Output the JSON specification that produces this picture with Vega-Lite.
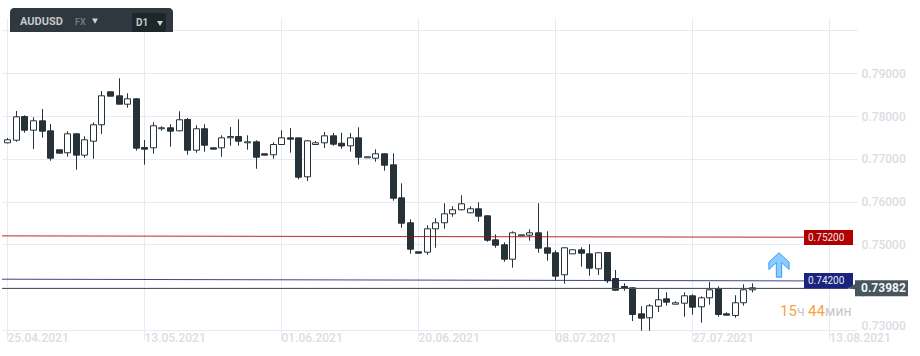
{"$schema":"https://vega.github.io/schema/vega-lite/v6.json","width":855,"height":312,"autosize":{"type":"none"},"padding":{"left":2,"top":18,"right":63,"bottom":26},"background":"#ffffff","config":{"view":{"stroke":null},"font":"Roboto"},
"datasets":{"candles":[
{"i":0,"o":0.77374,"h":0.77486,"l":0.77362,"c":0.77444},{"i":1,"o":0.77434,"h":0.78117,"l":0.77399,"c":0.77981},{"i":2,"o":0.77988,"h":0.78016,"l":0.7761,"c":0.77668},{"i":3,"o":0.77668,"h":0.77969,"l":0.77229,"c":0.77888},{"i":4,"o":0.77888,"h":0.78163,"l":0.77493,"c":0.77645},{"i":5,"o":0.77654,"h":0.77814,"l":0.76956,"c":0.77014},{"i":6,"o":0.77211,"h":0.77211,"l":0.77131,"c":0.77131},{"i":7,"o":0.77141,"h":0.77643,"l":0.77049,"c":0.77584},{"i":8,"o":0.77584,"h":0.77596,"l":0.76745,"c":0.77085},{"i":9,"o":0.77085,"h":0.77525,"l":0.77026,"c":0.77444},
{"i":10,"o":0.77411,"h":0.77853,"l":0.77002,"c":0.77795},{"i":11,"o":0.77795,"h":0.78585,"l":0.7758,"c":0.78472},{"i":12,"o":0.78566,"h":0.78566,"l":0.78463,"c":0.78463},{"i":13,"o":0.78472,"h":0.78881,"l":0.78276,"c":0.78276},{"i":14,"o":0.78276,"h":0.78531,"l":0.78194,"c":0.78402},{"i":15,"o":0.78402,"h":0.78414,"l":0.7719,"c":0.77248},{"i":16,"o":0.77264,"h":0.77439,"l":0.76862,"c":0.77225},{"i":17,"o":0.77257,"h":0.77853,"l":0.7712,"c":0.77772},{"i":18,"o":0.77702,"h":0.7776,"l":0.77657,"c":0.77725},{"i":19,"o":0.77725,"h":0.77807,"l":0.77283,"c":0.77645},
{"i":20,"o":0.77654,"h":0.7811,"l":0.77643,"c":0.77912},{"i":21,"o":0.77919,"h":0.77954,"l":0.77096,"c":0.77201},{"i":22,"o":0.77201,"h":0.77783,"l":0.77143,"c":0.77702},{"i":23,"o":0.77702,"h":0.77807,"l":0.77166,"c":0.77317},{"i":24,"o":0.77257,"h":0.77257,"l":0.77225,"c":0.77225},{"i":25,"o":0.77257,"h":0.77549,"l":0.77049,"c":0.7749},{"i":26,"o":0.7749,"h":0.77743,"l":0.77306,"c":0.77521},{"i":27,"o":0.77521,"h":0.77923,"l":0.77306,"c":0.77411},{"i":28,"o":0.77374,"h":0.77549,"l":0.77213,"c":0.77397},{"i":29,"o":0.77397,"h":0.77432,"l":0.76768,"c":0.77037},
{"i":30,"o":0.77117,"h":0.77117,"l":0.77085,"c":0.77085},{"i":31,"o":0.77094,"h":0.77385,"l":0.77002,"c":0.77334},{"i":32,"o":0.77334,"h":0.77666,"l":0.77322,"c":0.7749},{"i":33,"o":0.7749,"h":0.7772,"l":0.77143,"c":0.77458},{"i":34,"o":0.7749,"h":0.7749,"l":0.76521,"c":0.7657},{"i":35,"o":0.7658,"h":0.77439,"l":0.76482,"c":0.7742},{"i":36,"o":0.77334,"h":0.77416,"l":0.77322,"c":0.77374},{"i":37,"o":0.77374,"h":0.77626,"l":0.77253,"c":0.77537},{"i":38,"o":0.77537,"h":0.77603,"l":0.77306,"c":0.77341},{"i":39,"o":0.77364,"h":0.7761,"l":0.77236,"c":0.77299},
{"i":40,"o":0.77303,"h":0.77603,"l":0.77166,"c":0.7749},{"i":41,"o":0.7749,"h":0.77736,"l":0.76862,"c":0.77037},{"i":42,"o":0.77023,"h":0.77047,"l":0.77023,"c":0.77047},{"i":43,"o":0.77014,"h":0.77222,"l":0.76932,"c":0.77117},{"i":44,"o":0.77117,"h":0.77129,"l":0.76722,"c":0.7685},{"i":45,"o":0.7686,"h":0.77129,"l":0.76021,"c":0.76079},{"i":46,"o":0.76088,"h":0.76428,"l":0.7539,"c":0.75495},{"i":47,"o":0.75505,"h":0.75586,"l":0.74783,"c":0.74888},{"i":48,"o":0.74827,"h":0.74827,"l":0.74794,"c":0.74794},{"i":49,"o":0.74818,"h":0.75446,"l":0.74759,"c":0.75364},
{"i":50,"o":0.75364,"h":0.7561,"l":0.74923,"c":0.75505},{"i":51,"o":0.75505,"h":0.7596,"l":0.75366,"c":0.75715},{"i":52,"o":0.75715,"h":0.7589,"l":0.75647,"c":0.75809},{"i":53,"o":0.75809,"h":0.76147,"l":0.75797,"c":0.75948},{"i":54,"o":0.75738,"h":0.7589,"l":0.75727,"c":0.75832},{"i":55,"o":0.75832,"h":0.75983,"l":0.7553,"c":0.75659},{"i":56,"o":0.75668,"h":0.7568,"l":0.75063,"c":0.75098},{"i":57,"o":0.75107,"h":0.75235,"l":0.74923,"c":0.74981},{"i":58,"o":0.74991,"h":0.75049,"l":0.74595,"c":0.74654},{"i":59,"o":0.74654,"h":0.75306,"l":0.74456,"c":0.75271},
{"i":60,"o":0.75201,"h":0.75224,"l":0.75201,"c":0.75224},{"i":61,"o":0.75215,"h":0.75352,"l":0.75087,"c":0.75271},{"i":62,"o":0.75271,"h":0.7596,"l":0.74806,"c":0.74911},{"i":63,"o":0.7492,"h":0.75306,"l":0.74619,"c":0.74794},{"i":64,"o":0.74804,"h":0.74862,"l":0.74161,"c":0.74257},{"i":65,"o":0.7429,"h":0.74932,"l":0.74082,"c":0.7492},{"i":66,"o":0.7478,"h":0.74874,"l":0.7478,"c":0.74874},{"i":67,"o":0.74874,"h":0.74932,"l":0.74479,"c":0.74794},{"i":68,"o":0.7478,"h":0.75003,"l":0.74269,"c":0.74444},{"i":69,"o":0.7443,"h":0.74815,"l":0.74285,"c":0.74804},
{"i":70,"o":0.74811,"h":0.74815,"l":0.74098,"c":0.74149},{"i":71,"o":0.74203,"h":0.74402,"l":0.73918,"c":0.7393},{"i":72,"o":0.74017,"h":0.74091,"l":0.73918,"c":0.73977},{"i":73,"o":0.73986,"h":0.73998,"l":0.7321,"c":0.73362},{"i":74,"o":0.73378,"h":0.73554,"l":0.72984,"c":0.73276},{"i":75,"o":0.73285,"h":0.73607,"l":0.72984,"c":0.73565},{"i":76,"o":0.73556,"h":0.73965,"l":0.7342,"c":0.73706},{"i":77,"o":0.73729,"h":0.7388,"l":0.73568,"c":0.7365},{"i":78,"o":0.73603,"h":0.73671,"l":0.73603,"c":0.73636},{"i":79,"o":0.73626,"h":0.7388,"l":0.73311,"c":0.73799},
{"i":80,"o":0.73799,"h":0.73834,"l":0.73358,"c":0.73533},{"i":81,"o":0.73542,"h":0.73787,"l":0.73171,"c":0.73752},{"i":82,"o":0.73752,"h":0.74122,"l":0.73592,"c":0.73939},{"i":83,"o":0.73963,"h":0.74021,"l":0.73311,"c":0.73362},{"i":84,"o":0.73378,"h":0.73414,"l":0.73346,"c":0.73346},{"i":85,"o":0.73339,"h":0.73811,"l":0.73287,"c":0.73636},{"i":86,"o":0.73636,"h":0.74068,"l":0.73568,"c":0.73939},{"i":87,"o":0.73939,"h":0.74091,"l":0.73881,"c":0.73986}
]},
"encoding":{"x":{"field":"i","type":"quantitative","scale":{"domain":[-0.62,99.26],"padding":0,"round":true,"nice":false,"zero":false},"title":null},"y":{"type":"quantitative","scale":{"domain":[0.73,0.8029],"nice":false,"zero":false},"title":null}},
"layer":[
{"data":{"name":"candles"},"mark":{"type":"rule","stroke":"#263238","strokeWidth":1,"xOffset":0.5,"clip":false},"encoding":{"x":{"field":"i","type":"quantitative","scale":{"domain":[-0.62,99.26],"padding":0,"round":true,"nice":false,"zero":false},"title":null,"axis":{"orient":"bottom","values":[0,16,32,48,64,80,96],"labelExpr":"{'0':'25.04.2021','16':'13.05.2021','32':'01.06.2021','48':'20.06.2021','64':'08.07.2021','80':'27.07.2021','96':'13.08.2021'}[datum.value]","grid":true,"gridColor":"#e9e9f5","gridWidth":1,"domain":false,"tickColor":"#e9e9f5","tickSize":10,"labelPadding":-8,"labelAlign":"left","labelBaseline":"top","labelFont":"Roboto","labelFontSize":12,"labelFontWeight":500,"labelColor":"#dcdde2","labelOverlap":false,"labelFlush":false,"labelBound":false,"zindex":0}},"y":{"field":"l","type":"quantitative","scale":{"domain":[0.73,0.8029],"nice":false,"zero":false},"title":null,"axis":{"orient":"right","values":[0.73,0.74,0.75,0.76,0.77,0.78,0.79,0.8],"labelExpr":"(datum.value>0.795||(datum.value>0.735&&datum.value<0.745))?'':format(datum.value,'.5f')","grid":true,"gridColor":"#e9e9f5","gridWidth":1,"domain":false,"ticks":false,"labelPadding":4,"labelFlush":true,"labelFlushOffset":2,"labelFont":"Roboto","labelFontSize":12,"labelFontWeight":500,"labelColor":"#dcdde2","zindex":0}},"y2":{"field":"h"}}},
{"data":{"name":"candles"},"mark":{"type":"bar","size":6,"stroke":"#263238","strokeWidth":1,"xOffset":0.5},"encoding":{"y":{"field":"o","type":"quantitative"},"y2":{"field":"c"},"fill":{"condition":{"test":"datum.c>datum.o","value":"#ffffff"},"value":"#263238"}}},
{"data":{"values":[{"i":-0.62,"p":0.75199},{"i":93.07,"p":0.75168}]},"mark":{"type":"line","stroke":"#b00000","strokeWidth":1,"opacity":0.85},"encoding":{"y":{"field":"p","type":"quantitative"}}},
{"data":{"values":[{"i":-0.62,"p":0.74187},{"i":93.07,"p":0.74147}]},"mark":{"type":"line","stroke":"#1a237e","strokeWidth":1,"opacity":0.85},"encoding":{"y":{"field":"p","type":"quantitative"}}},
{"data":{"values":[{"i":-0.62,"p":0.7397},{"i":98.2,"p":0.7397}]},"mark":{"type":"line","stroke":"#47555e","strokeWidth":1},"encoding":{"y":{"field":"p","type":"quantitative"}}},
{"data":{"values":[{"i":93.07,"i2":98.8,"p":0.75336,"p2":0.74986,"k":"r"},{"i":93.07,"i2":98.8,"p":0.74332,"p2":0.73975,"k":"b"}]},"mark":{"type":"rect","clip":false},"encoding":{"y":{"field":"p","type":"quantitative"},"x2":{"field":"i2"},"y2":{"field":"p2"},"fill":{"field":"k","type":"nominal","legend":null,"scale":{"domain":["r","b"],"range":["#b00000","#1a237e"]}}}},
{"data":{"values":[{"i":99.03,"i2":105.2,"p":0.74160,"p2":0.73786}]},"mark":{"type":"rect","fill":"#47555e","clip":false},"encoding":{"y":{"field":"p","type":"quantitative"},"x2":{"field":"i2"},"y2":{"field":"p2"}}},
{"data":{"values":[{"i":98.98,"p":0.73973}]},"mark":{"type":"point","filled":true,"fill":"#47555e","stroke":null,"opacity":1,"size":280,"shape":"M1,-1 L1,1 L0,0.1 L-1,0 Z","clip":false},"encoding":{"y":{"field":"p","type":"quantitative"}}},
{"data":{"values":[{"i":90.1,"p":0.74519}]},"mark":{"type":"point","filled":true,"fill":"#8ecbff","stroke":"#2f9fff","strokeWidth":1,"opacity":1,"size":595,"shape":"M0,-1 L0.83,-0.23 L0.83,0.37 L0.22,-0.2 L0.22,1 L-0.22,1 L-0.22,-0.2 L-0.83,0.37 L-0.83,-0.23 Z"},"encoding":{"y":{"field":"p","type":"quantitative"}}},
{"data":{"values":[{"t":"0.75200","i":93.57,"p":0.75161},{"t":"0.74200","i":93.57,"p":0.74156}]},"mark":{"type":"text","align":"left","baseline":"middle","fontSize":10,"font":"Roboto","fill":"#e8eaf0","clip":false},"encoding":{"y":{"field":"p","type":"quantitative"},"text":{"field":"t"}}},
{"data":{"values":[{"t":"0.73982","i":99.72,"p":0.7397}]},"mark":{"type":"text","align":"left","baseline":"middle","fontSize":12,"fontWeight":"bold","font":"Roboto","fill":"#f2f4f5","clip":false},"encoding":{"y":{"field":"p","type":"quantitative"},"text":{"field":"t"}}},
{"data":{"values":[{"t":"15","i":90.26,"p":0.73327},{"t":"44","i":93.57,"p":0.73327}]},"mark":{"type":"text","align":"left","baseline":"alphabetic","fontSize":15,"font":"Roboto","fill":"#f5a542"},"encoding":{"y":{"field":"p","type":"quantitative"},"text":{"field":"t"}}},
{"data":{"values":[{"t":"ч","i":92.2,"p":0.73327},{"t":"мин","i":95.53,"p":0.73327}]},"mark":{"type":"text","align":"left","baseline":"alphabetic","fontSize":14,"font":"Roboto","fill":"#c6c8cc"},"encoding":{"y":{"field":"p","type":"quantitative"},"text":{"field":"t"}}},
{"data":{"values":[{"i":0.32,"i2":19.36,"p":0.80523,"p2":0.79962}]},"mark":{"type":"rect","fill":"#2e383e","cornerRadiusTopLeft":4,"cornerRadiusTopRight":4,"clip":false},"encoding":{"y":{"field":"p","type":"quantitative"},"x2":{"field":"i2"},"y2":{"field":"p2"}}},
{"data":{"values":[{"i":14.57,"i2":18.54,"p":0.80406,"p2":0.79962}]},"mark":{"type":"rect","fill":"#1d262b","cornerRadius":2,"clip":false},"encoding":{"y":{"field":"p","type":"quantitative"},"x2":{"field":"i2"},"y2":{"field":"p2"}}},
{"data":{"values":[{"i":10.3,"p":0.80219},{"i":17.78,"p":0.80161}]},"mark":{"type":"point","shape":"triangle-down","filled":true,"fill":"#cfd3d5","opacity":1,"size":36,"clip":false},"encoding":{"y":{"field":"p","type":"quantitative"}}},
{"data":{"values":[{"t":"AUDUSD","i":1.48,"p":0.80196}]},"mark":{"type":"text","align":"left","baseline":"middle","fontSize":11,"fontWeight":"bold","font":"Roboto","fill":"#c4c9cc","clip":false},"encoding":{"y":{"field":"p","type":"quantitative"},"text":{"field":"t"}}},
{"data":{"values":[{"t":"FX","i":7.91,"p":0.80196}]},"mark":{"type":"text","align":"left","baseline":"middle","fontSize":9,"font":"Roboto","fontWeight":"bold","fill":"#6f7a80","clip":false},"encoding":{"y":{"field":"p","type":"quantitative"},"text":{"field":"t"}}},
{"data":{"values":[{"t":"D1","i":15.03,"p":0.80178}]},"mark":{"type":"text","align":"left","baseline":"middle","fontSize":10,"fontWeight":"bold","font":"Roboto","fill":"#c4c9cc","clip":false},"encoding":{"y":{"field":"p","type":"quantitative"},"text":{"field":"t"}}}
]}
